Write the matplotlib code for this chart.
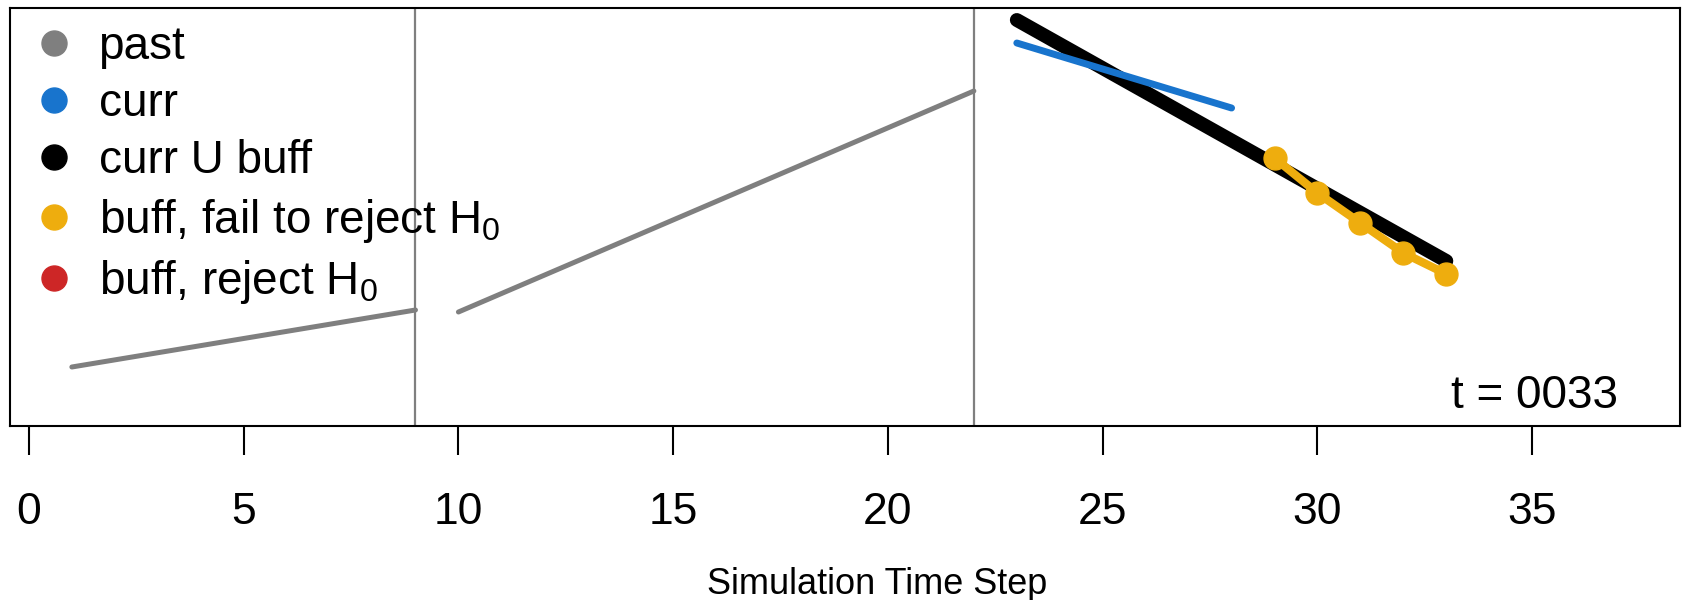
import matplotlib
matplotlib.use("Agg")
import matplotlib.pyplot as plt
from matplotlib.lines import Line2D

plt.rcParams['font.family'] = ['Liberation Sans', 'DejaVu Sans']
plt.rcParams['mathtext.fontset'] = 'custom'
plt.rcParams['mathtext.rm'] = 'Liberation Sans'
plt.rcParams['mathtext.it'] = 'Liberation Sans'

# data (y has no scale in the original)
past1_x = [1, 9]
past1_y = [0.59, 1.16]
past2_x = [10, 22]
past2_y = [1.14, 3.35]
buff_x = [23, 33]
buff_y = [4.06, 1.65]
curr_x = [23, 28]
curr_y = [3.83, 3.18]
fail_x = [29, 30, 31, 32, 33]
fail_y = [2.68, 2.33, 2.03, 1.73, 1.52]
breaks = [9, 22]
xticks = [0, 5, 10, 15, 20, 25, 30, 35]
t_now = 33

GRAY = '#7F7F7F'
BLUE = '#1874CD'
BLACK = '#000000'
ORANGE = '#EEAD0E'
RED = '#CD2626'

fig = plt.figure(figsize=(16.83, 6), dpi=100)
ax = fig.add_axes([10 / 1683, (600 - 426) / 600, 1670 / 1683, 418 / 600])

for b in breaks:
    ax.axvline(b, color=GRAY, lw=1.6)

ax.plot(past1_x, past1_y, color=GRAY, lw=3.6, solid_capstyle='round')
ax.plot(past2_x, past2_y, color=GRAY, lw=3.6, solid_capstyle='round')
ax.plot(buff_x, buff_y, color=BLACK, lw=10, solid_capstyle='round')
ax.plot(curr_x, curr_y, color=BLUE, lw=5, solid_capstyle='round')
ax.plot(fail_x, fail_y, color=ORANGE, lw=6, marker='o', markersize=16.5,
        solid_capstyle='round')

ax.set_xlim(-0.44, 38.44)
ax.set_ylim(0, 4.18)
ax.set_yticks([])
ax.set_xticks(xticks)
ax.tick_params(axis='x', length=21, width=1.5, pad=26.5, labelsize=32)
for s in ax.spines.values():
    s.set_linewidth(1.5)

ax.text(0.963, 0.043, 't = %04d' % t_now, transform=ax.transAxes,
        ha='right', va='baseline', fontsize=33)

fig.text(877 / 1683, 6 / 600, 'Simulation Time Step', ha='center',
         va='baseline', fontsize=26)

labels = ['past', 'curr', 'curr U buff', 'buff, fail to reject H$_0$',
          'buff, reject H$_0$']
cols = [GRAY, BLUE, BLACK, ORANGE, RED]
handles = [Line2D([], [], ls='none', marker='o', markersize=18, color=c)
           for c in cols]
ax.legend(handles, labels, loc='upper left', bbox_to_anchor=(0.0154, 0.96),
          frameon=False, fontsize=33, handlelength=0.8, handletextpad=0.57,
          labelspacing=0.29, borderpad=0, borderaxespad=0)

fig.savefig('out.png', dpi=100)
